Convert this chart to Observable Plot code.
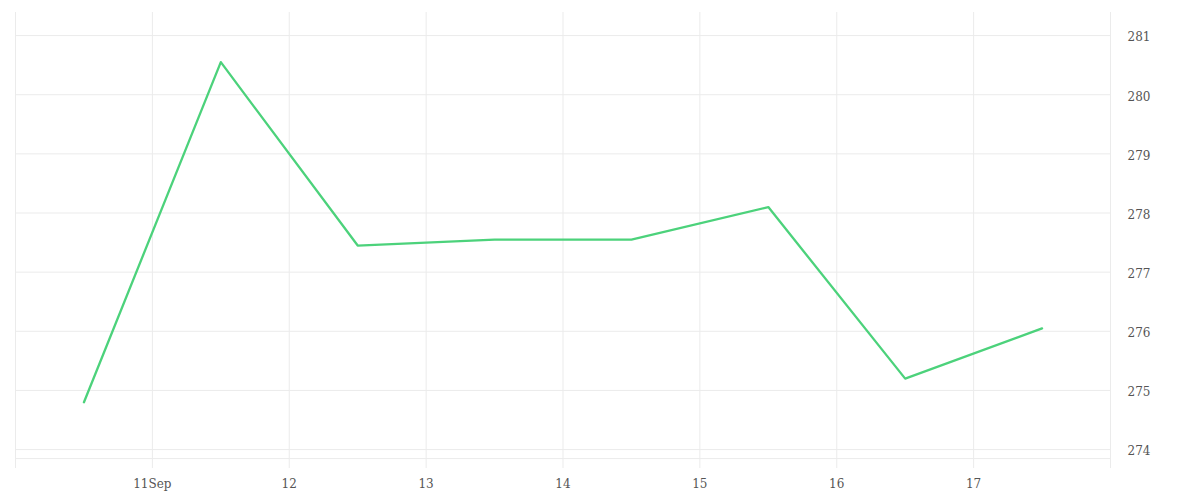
<!DOCTYPE html>
<html>
<head>
<meta charset="utf-8">
<script src="https://cdn.jsdelivr.net/npm/d3@7"></script>
<script src="https://cdn.jsdelivr.net/npm/@observablehq/plot@0.6"></script>
<style>
  html, body { margin: 0; padding: 0; background: #fff; }
  #chart svg { display: block; }
</style>
</head>
<body>
<div id="chart"></div>
<script>
// Data
const dates = ["2023-09-10T12:00Z","2023-09-11T12:00Z","2023-09-12T12:00Z","2023-09-13T12:00Z","2023-09-14T12:00Z","2023-09-15T12:00Z","2023-09-16T12:00Z","2023-09-17T12:00Z"];
const values = [274.8, 280.55, 277.45, 277.55, 277.55, 278.1, 275.2, 276.05];
const dayGrid = ["2023-09-10","2023-09-11","2023-09-12","2023-09-13","2023-09-14","2023-09-15","2023-09-16","2023-09-17","2023-09-18"];
const xTicks = ["2023-09-11","2023-09-12","2023-09-13","2023-09-14","2023-09-15","2023-09-16","2023-09-17"];
const yTicks = [274, 275, 276, 277, 278, 279, 280, 281];
const yDomain = [273.68, 281.39];
const baseline = [273.848];

const data = dates.map((d, i) => ({date: new Date(d), value: values[i]}));
const grid = dayGrid.map(d => new Date(d + "T00:00Z"));
const ticks = xTicks.map(d => new Date(d + "T00:00Z"));

const chart = Plot.plot({
  width: 1200,
  height: 500,
  marginLeft: 15,
  marginRight: 90,
  marginTop: 12,
  marginBottom: 32,
  style: {fontFamily: "DejaVu Serif", fontSize: "12px", color: "#555", background: "#fff"},
  x: {type: "utc", domain: [grid[0], grid[grid.length - 1]]},
  y: {domain: yDomain},
  marks: [
    Plot.ruleY(yTicks, {stroke: "#ebebeb", strokeWidth: 1}),
    Plot.ruleY(baseline, {stroke: "#ebebeb", strokeWidth: 1}),
    Plot.ruleX(grid, {stroke: "#ebebeb", strokeWidth: 1}),
    Plot.axisX({ticks: ticks, tickSize: 0, tickPadding: 11,
      tickFormat: (d, i) => i === 0 ? d.getUTCDate() + "Sep" : String(d.getUTCDate())}),
    Plot.axisY({anchor: "right", ticks: yTicks, tickSize: 0, tickPadding: 17, dy: 2, label: null, tickFormat: d => String(d)}),
    Plot.line(data, {x: "date", y: "value", stroke: "#4cd27b", strokeWidth: 2.3})
  ]
});
document.getElementById("chart").appendChild(chart);
</script>
</body>
</html>
